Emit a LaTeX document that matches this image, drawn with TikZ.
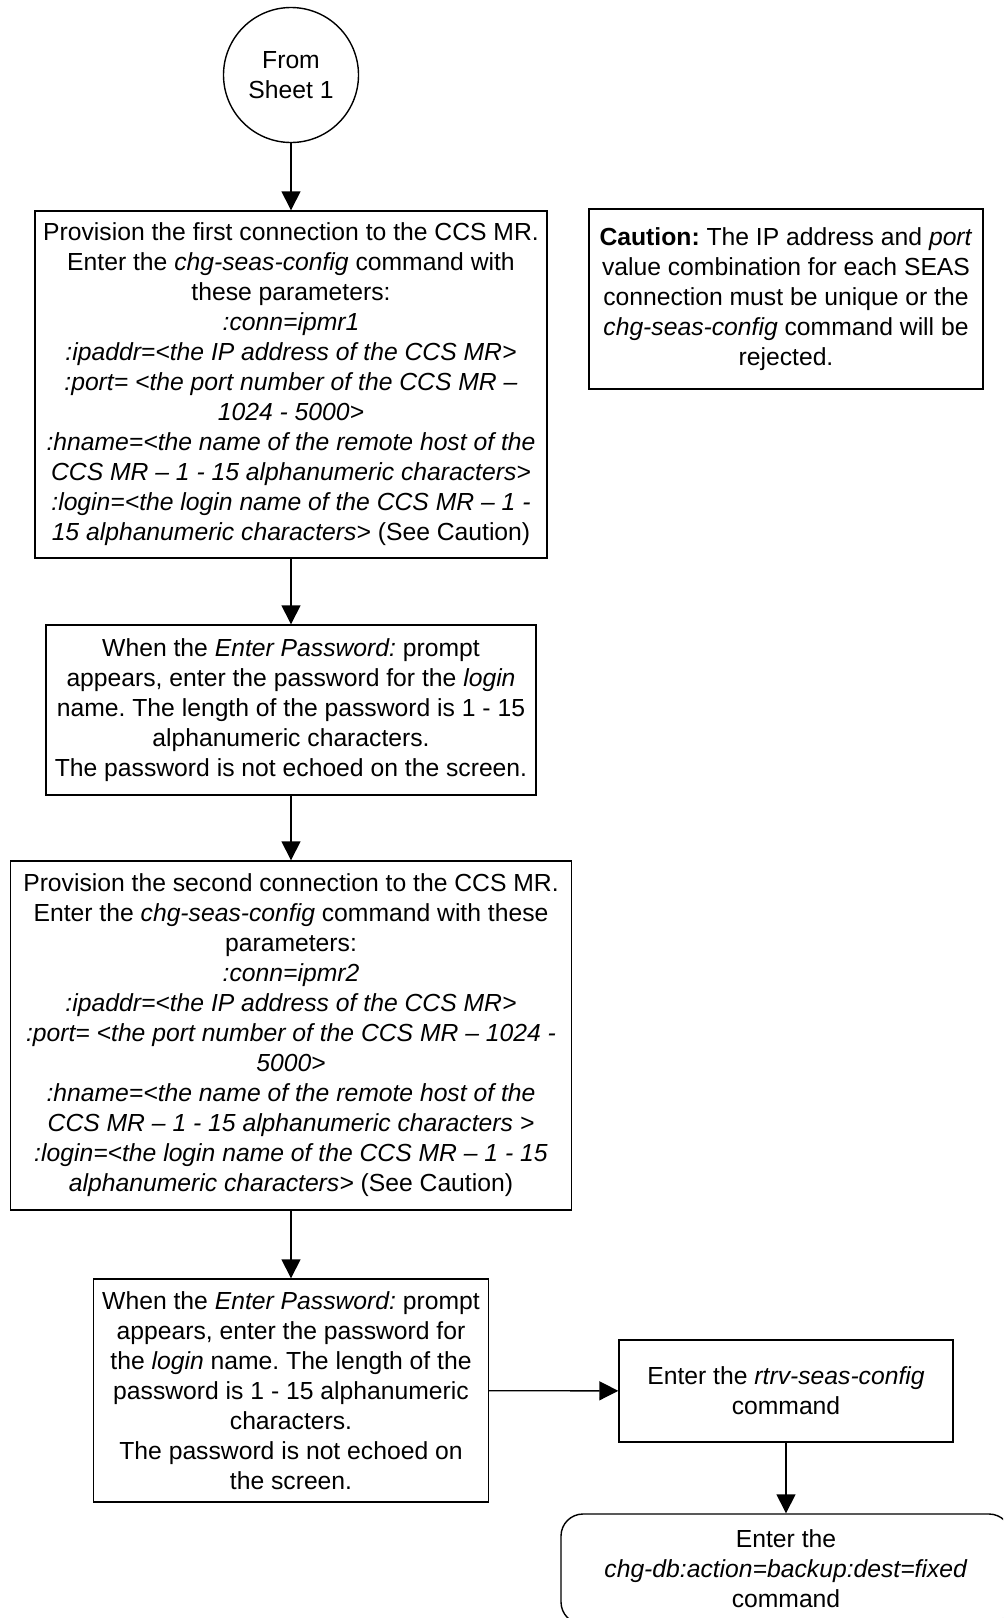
\documentclass[tikz,border=0pt]{standalone}
\usepackage{fontspec}
\setmainfont{Liberation Sans}
\usetikzlibrary{arrows.meta}
\frenchspacing
\begin{document}
\begin{tikzpicture}[x=0.5pt,y=-0.5pt,
  every node/.style={font=\fontsize{12.35pt}{15pt}\selectfont\frenchspacing, align=center, inner sep=0pt},
  procbox/.style={draw, line width=0.7pt, rectangle},
  termbox/.style={draw, line width=0.7pt, rectangle, rounded corners=11pt},
  connector/.style={draw, line width=0.7pt, circle},
  arr/.style={line width=0.7pt, -{Triangle[width=9.5pt,length=9.5pt]}}]
\clip (0,0) rectangle (1003,1618);
\fill[white] (0,0) rectangle (1003,1618);

\node[connector, minimum size=67.5pt] (c) at (291,75) {From\\Sheet 1};

\node[procbox, minimum width=256pt, minimum height=173.5pt] (b1) at (291,384.5)
 {Provision the first connection to the CCS MR.\\
  Enter the \textit{chg-seas-config} command with\\
  these parameters:\\
  \textit{:conn=ipmr1}\\
  \textit{:ipaddr=<the IP address of the CCS MR>}\\
  \textit{:port= <the port number of the CCS MR –}\\
  \textit{1024 - 5000>}\\
  \textit{:hname=<the name of the remote host of the}\\
  \textit{CCS MR – 1 - 15 alphanumeric characters>}\\
  \textit{:login=<the login name of the CCS MR – 1 -}\\
  \textit{15 alphanumeric characters>} (See Caution)};

\node[procbox, minimum width=197pt, minimum height=90pt] (caut) at (786,299)
 {\textbf{Caution:} The IP address and \textit{port}\\
  value combination for each SEAS\\
  connection must be unique or the\\
  \textit{chg-seas-config} command will be\\
  rejected.};

\node[procbox, minimum width=245pt, minimum height=85pt] (b2) at (291,710)
 {When the \textit{Enter Password:} prompt\\
  appears, enter the password for the \textit{login}\\
  name. The length of the password is 1 - 15\\
  alphanumeric characters.\\
  The password is not echoed on the screen.};

\node[procbox, minimum width=280.5pt, minimum height=174.5pt] (b3) at (291,1035.5)
 {Provision the second connection to the CCS MR.\\
  Enter the \textit{chg-seas-config} command with these\\
  parameters:\\
  \textit{:conn=ipmr2}\\
  \textit{:ipaddr=<the IP address of the CCS MR>}\\
  \textit{:port= <the port number of the CCS MR – 1024 -}\\
  \textit{5000>}\\
  \textit{:hname=<the name of the remote host of the}\\
  \textit{CCS MR – 1 - 15 alphanumeric characters >}\\
  \textit{:login=<the login name of the CCS MR – 1 - 15}\\
  \textit{alphanumeric characters>} (See Caution)};

\node[procbox, minimum width=197.5pt, minimum height=111.5pt] (b4) at (291,1390.5)
 {When the \textit{Enter Password:} prompt\\
  appears, enter the password for\\
  the \textit{login} name. The length of the\\
  password is 1 - 15 alphanumeric\\
  characters.\\
  The password is not echoed on\\
  the screen.};

\node[procbox, minimum width=167pt, minimum height=51pt] (b5) at (786,1391)
 {Enter the \textit{rtrv-seas-config}\\command};

\node[termbox, minimum width=225pt, minimum height=55pt] (b6) at (786,1569)
 {Enter the\\\textit{chg-db:action=backup:dest=fixed}\\command};

\draw[arr] (c) -- (b1);
\draw[arr] (b1) -- (b2);
\draw[arr] (b2) -- (b3);
\draw[arr] (b3) -- (b4);
\draw[arr] (b4) -- (b5);
\draw[arr] (b5) -- (b6);
\end{tikzpicture}
\end{document}
